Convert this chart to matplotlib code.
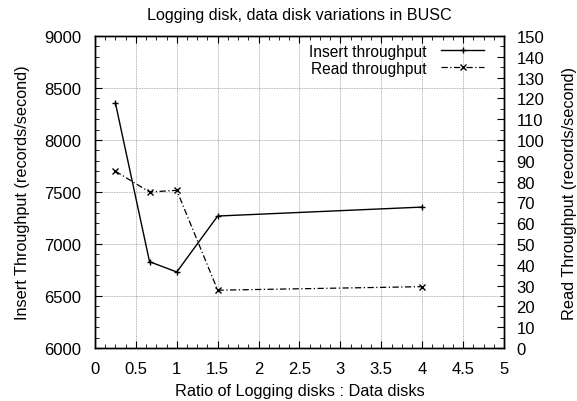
import matplotlib
matplotlib.use("Agg")
import matplotlib.pyplot as plt
from matplotlib.ticker import MultipleLocator, AutoMinorLocator

plt.rcParams['font.family'] = ['Liberation Sans', 'DejaVu Sans']

# ratio of logging disks : data disks
ratio = [0.25, 0.667, 1.0, 1.5, 4.0]
insert_tp = [8355, 6830, 6731, 7269, 7355]
read_tp = [85.0, 75.0, 75.8, 27.8, 29.5]

fig = plt.figure(figsize=(5.77, 4.02), dpi=100)
ax = fig.add_axes([0.1646, 0.1318, 0.7089, 0.7762])
ax2 = ax.twinx()

l1, = ax.plot(ratio, insert_tp, color='black', lw=1.0, marker='+', ms=5, mew=1.0,
              label='Insert throughput')
l2, = ax2.plot(ratio, read_tp, color='black', lw=0.9, ls=(0, (5, 2, 1, 2)), marker='x',
               ms=4, mew=1.0, label='Read throughput')

ax.set_xlim(0, 5)
ax.set_ylim(6000, 9000)
ax2.set_ylim(0, 150)

ax.xaxis.set_major_locator(MultipleLocator(0.5))
ax.xaxis.set_minor_locator(AutoMinorLocator(4))
ax.yaxis.set_major_locator(MultipleLocator(500))
ax.yaxis.set_minor_locator(AutoMinorLocator(5))
ax2.yaxis.set_major_locator(MultipleLocator(10))
ax2.yaxis.set_minor_locator(AutoMinorLocator(2))

ax.set_xticks([0, 0.5, 1, 1.5, 2, 2.5, 3, 3.5, 4, 4.5, 5])
ax.set_xticklabels(['0', '0.5', '1', '1.5', '2', '2.5', '3', '3.5', '4', '4.5', '5'])

ax.grid(True, which='major', ls=(0, (1, 1)), color='#999999', lw=0.6)

ax.tick_params(which='both', direction='in', top=True, right=False, labelsize=12)
ax.tick_params(axis='x', pad=9)
ax.tick_params(axis='y', pad=10)
ax.tick_params(which='major', length=5)
ax.tick_params(which='minor', length=3)
ax2.tick_params(which='both', direction='in', labelsize=12, pad=9)
ax2.tick_params(which='major', length=5)
ax2.tick_params(which='minor', length=3)

for a in (ax, ax2):
    for s in a.spines.values():
        s.set_linewidth(1.0)

ax.set_xlabel('Ratio of Logging disks : Data disks', fontsize=11.7)
ax.set_ylabel('Insert Throughput (records/second)', fontsize=11.7)
ax2.set_ylabel('Read Throughput (records/second)', fontsize=11.7)
ax.xaxis.set_label_coords(0.5, -0.112)
ax.yaxis.set_label_coords(-0.158, 0.5)
ax2.yaxis.set_label_coords(1.142, 0.5)
ax.set_title('Logging disk, data disk variations in BUSC', fontsize=11.6, pad=12)

leg = ax2.legend(handles=[l1, l2], loc='upper right', frameon=False, markerfirst=False,
                 fontsize=11.2, handlelength=2.8, borderaxespad=0, borderpad=0,
                 bbox_to_anchor=(0.952, 0.975), labelspacing=0.12, handletextpad=0.95)

fig.savefig('out.png', dpi=100)
